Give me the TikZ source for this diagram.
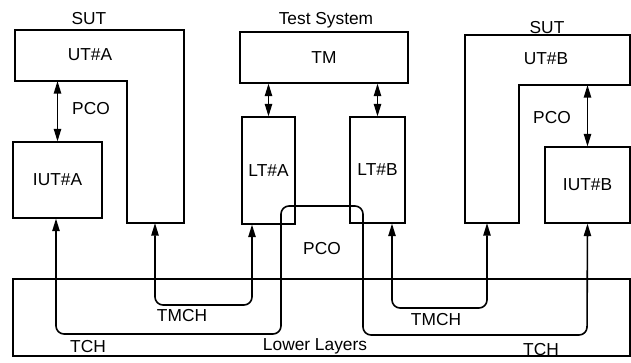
\documentclass[tikz,border=0pt]{standalone}
\usepackage{fontspec}
\setmainfont{Liberation Sans}
\usetikzlibrary{arrows.meta,calc}

\begin{document}
\begin{tikzpicture}[
  x=0.75pt, y=-0.75pt,
  box/.style={draw, line width=0.8pt, inner sep=0pt},
  arrow/.style={{Triangle[length=9.5pt,width=5.5pt]}-{Triangle[length=9.5pt,width=5.5pt]}, line width=1.2pt},
  link/.style={arrow, rounded corners=6pt},
  every node/.style={font=\fontsize{13}{15}\selectfont}
]
\useasboundingbox (0,0) rectangle (631,362);

% upper testers, SUT sides drawn as L shapes
\draw[box] (15,30) -- (184,30) -- (184,223) -- (127,223) -- (127,81) -- (15,81) -- cycle;
\coordinate (utAin) at (127,81);
\coordinate (utAft) at (155,223);
\draw[box] (630,35) -- (465,35) -- (465,223) -- (519,223) -- (519,85) -- (630,85) -- cycle;
\coordinate (utBin) at (519,85);
\coordinate (utBft) at (487,223);

\node (sutA)  at (89,19)  {SUT};
\node (tsys)  at (326,20) {Test System};
\node (sutB)  at (547,28) {SUT};
\node (utA)   at (90,55)  {UT\#A};
\node (utB)   at (546,59) {UT\#B};

\node[box, minimum width=126pt, minimum height=38.25pt] (TM) at (324,57.5) {TM};
\node[box, minimum width=39.75pt, minimum height=80.25pt] (LTA) at (268.5,170.5) {LT\#A};
\node[box, minimum width=41.25pt, minimum height=79.5pt] (LTB) at (377.5,170) {LT\#B};
\node[box, minimum width=66.75pt, minimum height=57pt] (IUTA) at (57.5,180) {IUT\#A};
\node[box, minimum width=63.75pt, minimum height=57pt] (IUTB) at (587.5,185) {IUT\#B};

% lower layers
\node[box, minimum width=462.75pt, minimum height=57.75pt] (lower) at (321.5,317.5) {};
\node (lowtxt) at (315,346) {Lower Layers};

\draw[arrow] (LTA.north) -- (LTA.north |- TM.south);
\draw[arrow] (LTB.north) -- (LTB.north |- TM.south);
\draw[arrow] (IUTA.north) -- (IUTA.north |- utAin);
\draw[arrow] (IUTB.north) -- (IUTB.north |- utBin);

\node (pcoA) at (91,109)  {PCO};
\node (pcoB) at (552,118) {PCO};
\node (pcoM) at (322,249) {PCO};

% channels
\draw[link] (utAft) -- (155,305) -- (252,305) -- ($(LTA.south)+(-16.5,0)$);
\draw[link] ($(LTB.south)+(14.5,0)$) -- (392,308) -- (487,308) -- (utBft);
\draw[link] ($(IUTA.south)+(-1.5,0)$) -- (56,334) -- (281,334) -- (281,206)
  -- (363,206) -- (363,335) -- (587,335) -- (IUTB.south);

\node (tmchA) at (182,316) {TMCH};
\node (tmchB) at (436,320) {TMCH};
\node (tchA)  at (88,347)  {TCH};
\node (tchB)  at (541,350) {TCH};

\end{tikzpicture}
\end{document}
